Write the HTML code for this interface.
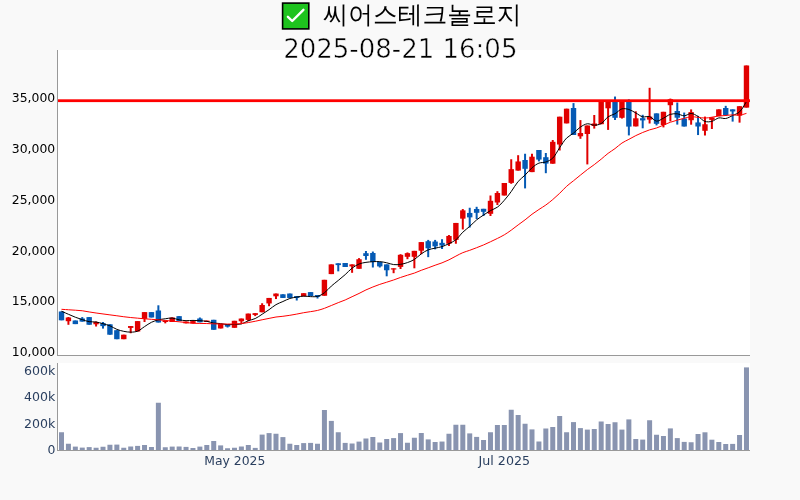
<!DOCTYPE html>
<html><head><meta charset="utf-8"><title>씨어스테크놀로지</title>
<style>
html,body{margin:0;padding:0;background:#f9f9f9;}
svg{display:block;will-change:transform;}
.tk{font-family:"DejaVu Sans",sans-serif;font-size:12px;}
.t1{font-family:"WenQuanYi Zen Hei","Noto Sans CJK KR",sans-serif;font-size:24.75px;fill:#000;}
.t2{font-family:"DejaVu Sans",sans-serif;font-size:26px;fill:#000;stroke:#fff;stroke-width:0.5px;}
</style></head>
<body><svg width="800" height="500" viewBox="0 0 800 500">
<rect x="0" y="0" width="800" height="500" fill="#f9f9f9"/>
<rect x="57" y="50" width="693" height="305" fill="#fff"/>
<rect x="57" y="363" width="693" height="87" fill="#fff"/>
<g><rect x="60.5" y="311.5" width="2" height="8.8" fill="#055ab4"/><rect x="58.8" y="311.5" width="5.4" height="8.8" fill="#055ab4"/><rect x="67.42" y="317" width="2" height="7.8" fill="#e00000"/><rect x="65.72" y="317.5" width="5.4" height="3.7" fill="#e00000"/><rect x="74.34" y="320.5" width="2" height="3.6" fill="#055ab4"/><rect x="72.64" y="320.5" width="5.4" height="3.6" fill="#055ab4"/><rect x="81.26" y="317.1" width="2" height="4.5" fill="#055ab4"/><rect x="79.56" y="318.5" width="5.4" height="3.1" fill="#055ab4"/><rect x="88.18" y="317.1" width="2" height="7.65" fill="#055ab4"/><rect x="86.48" y="317.1" width="5.4" height="7.65" fill="#055ab4"/><rect x="95.09" y="321.5" width="2" height="5" fill="#e00000"/><rect x="93.39" y="322" width="5.4" height="2.3" fill="#e00000"/><rect x="102.01" y="322" width="2" height="6.6" fill="#055ab4"/><rect x="100.31" y="323.2" width="5.4" height="2.9" fill="#055ab4"/><rect x="108.93" y="324.3" width="2" height="10.4" fill="#055ab4"/><rect x="107.23" y="324.3" width="5.4" height="10.4" fill="#055ab4"/><rect x="115.85" y="330.2" width="2" height="9" fill="#055ab4"/><rect x="114.15" y="330.2" width="5.4" height="9" fill="#055ab4"/><rect x="122.77" y="334.7" width="2" height="4.5" fill="#e00000"/><rect x="121.07" y="334.7" width="5.4" height="4.5" fill="#e00000"/><rect x="129.69" y="326.05" width="2" height="7.2" fill="#e00000"/><rect x="127.99" y="326.05" width="5.4" height="1.85" fill="#e00000"/><rect x="136.61" y="321.1" width="2" height="10.4" fill="#e00000"/><rect x="134.91" y="321.1" width="5.4" height="10.4" fill="#e00000"/><rect x="143.53" y="312.1" width="2" height="9.9" fill="#e00000"/><rect x="141.83" y="312.1" width="5.4" height="6.75" fill="#e00000"/><rect x="150.45" y="312.1" width="2" height="5.4" fill="#055ab4"/><rect x="148.75" y="312.1" width="5.4" height="5.4" fill="#055ab4"/><rect x="157.37" y="305.3" width="2" height="17.2" fill="#055ab4"/><rect x="155.67" y="310.5" width="5.4" height="12" fill="#055ab4"/><rect x="164.28" y="320.65" width="2" height="2.7" fill="#e00000"/><rect x="162.58" y="320.65" width="5.4" height="1.35" fill="#e00000"/><rect x="171.2" y="317.5" width="2" height="4.5" fill="#e00000"/><rect x="169.5" y="317.5" width="5.4" height="4.5" fill="#e00000"/><rect x="178.12" y="316.15" width="2" height="4.95" fill="#055ab4"/><rect x="176.42" y="316.15" width="5.4" height="4.95" fill="#055ab4"/><rect x="185.04" y="321.55" width="2" height="1.8" fill="#e00000"/><rect x="183.34" y="321.55" width="5.4" height="1.8" fill="#e00000"/><rect x="191.96" y="320.2" width="2" height="3.15" fill="#e00000"/><rect x="190.26" y="321.1" width="5.4" height="2.25" fill="#e00000"/><rect x="198.88" y="317.5" width="2" height="4.8" fill="#055ab4"/><rect x="197.18" y="318.5" width="5.4" height="3.8" fill="#055ab4"/><rect x="205.8" y="320.6" width="2" height="1.4" fill="#e00000"/><rect x="204.1" y="320.6" width="5.4" height="1.4" fill="#e00000"/><rect x="212.72" y="319.8" width="2" height="10" fill="#055ab4"/><rect x="211.02" y="319.8" width="5.4" height="10" fill="#055ab4"/><rect x="219.64" y="324" width="2" height="4.45" fill="#e00000"/><rect x="217.94" y="324" width="5.4" height="4.45" fill="#e00000"/><rect x="226.56" y="324" width="2" height="3.5" fill="#055ab4"/><rect x="224.86" y="324" width="5.4" height="2.65" fill="#055ab4"/><rect x="233.47" y="320.8" width="2" height="7" fill="#e00000"/><rect x="231.77" y="320.8" width="5.4" height="7" fill="#e00000"/><rect x="240.39" y="318.55" width="2" height="4.95" fill="#e00000"/><rect x="238.69" y="318.55" width="5.4" height="2.7" fill="#e00000"/><rect x="247.31" y="313.6" width="2" height="7.65" fill="#e00000"/><rect x="245.61" y="313.6" width="5.4" height="6.3" fill="#e00000"/><rect x="254.23" y="313.15" width="2" height="2.95" fill="#e00000"/><rect x="252.53" y="313.15" width="5.4" height="1.8" fill="#e00000"/><rect x="261.15" y="303.25" width="2" height="9" fill="#e00000"/><rect x="259.45" y="305" width="5.4" height="7.25" fill="#e00000"/><rect x="268.07" y="297.95" width="2" height="8.25" fill="#e00000"/><rect x="266.37" y="297.95" width="5.4" height="5.5" fill="#e00000"/><rect x="274.99" y="293.55" width="2" height="5.5" fill="#e00000"/><rect x="273.29" y="293.55" width="5.4" height="2.75" fill="#e00000"/><rect x="281.91" y="294.3" width="2" height="3.65" fill="#055ab4"/><rect x="280.21" y="294.3" width="5.4" height="3.65" fill="#055ab4"/><rect x="288.83" y="293.55" width="2" height="4.4" fill="#055ab4"/><rect x="287.13" y="293.55" width="5.4" height="4.4" fill="#055ab4"/><rect x="295.75" y="296.1" width="2" height="4.4" fill="#055ab4"/><rect x="294.05" y="296.1" width="5.4" height="1.85" fill="#055ab4"/><rect x="302.66" y="293.2" width="2" height="3.1" fill="#e00000"/><rect x="300.96" y="293.2" width="5.4" height="3.1" fill="#e00000"/><rect x="309.58" y="292.1" width="2" height="4" fill="#055ab4"/><rect x="307.88" y="292.1" width="5.4" height="4" fill="#055ab4"/><rect x="316.5" y="295" width="2" height="3.5" fill="#055ab4"/><rect x="314.8" y="295" width="5.4" height="1.85" fill="#055ab4"/><rect x="323.42" y="279.8" width="2" height="15.95" fill="#e00000"/><rect x="321.72" y="279.8" width="5.4" height="15.95" fill="#e00000"/><rect x="330.34" y="264.4" width="2" height="9.7" fill="#e00000"/><rect x="328.64" y="264.4" width="5.4" height="9.7" fill="#e00000"/><rect x="337.26" y="263.3" width="2" height="8.05" fill="#055ab4"/><rect x="335.56" y="263.3" width="5.4" height="1.8" fill="#055ab4"/><rect x="344.18" y="263" width="2" height="4" fill="#055ab4"/><rect x="342.48" y="263" width="5.4" height="4" fill="#055ab4"/><rect x="351.1" y="264.4" width="2" height="8.4" fill="#e00000"/><rect x="349.4" y="264.4" width="5.4" height="2" fill="#e00000"/><rect x="358.02" y="258.15" width="2" height="10.65" fill="#e00000"/><rect x="356.32" y="259.25" width="5.4" height="9.55" fill="#e00000"/><rect x="364.94" y="251" width="2" height="8.8" fill="#055ab4"/><rect x="363.24" y="253.2" width="5.4" height="2.8" fill="#055ab4"/><rect x="371.85" y="251.55" width="2" height="15.95" fill="#055ab4"/><rect x="370.15" y="253" width="5.4" height="9" fill="#055ab4"/><rect x="378.77" y="262" width="2" height="5.5" fill="#055ab4"/><rect x="377.07" y="262" width="5.4" height="4.4" fill="#055ab4"/><rect x="385.69" y="264.4" width="2" height="11.9" fill="#055ab4"/><rect x="383.99" y="264.4" width="5.4" height="5.85" fill="#055ab4"/><rect x="392.61" y="268.3" width="2" height="4.9" fill="#e00000"/><rect x="390.91" y="268.3" width="5.4" height="1.2" fill="#e00000"/><rect x="399.53" y="254.2" width="2" height="14.8" fill="#e00000"/><rect x="397.83" y="254.8" width="5.4" height="12.1" fill="#e00000"/><rect x="406.45" y="252.45" width="2" height="6.75" fill="#e00000"/><rect x="404.75" y="253.15" width="5.4" height="3.65" fill="#e00000"/><rect x="413.37" y="250.85" width="2" height="17.45" fill="#e00000"/><rect x="411.67" y="250.85" width="5.4" height="5.95" fill="#e00000"/><rect x="420.29" y="242.1" width="2" height="12.1" fill="#e00000"/><rect x="418.59" y="242.1" width="5.4" height="8.6" fill="#e00000"/><rect x="427.21" y="239.9" width="2" height="17.25" fill="#055ab4"/><rect x="425.51" y="241.2" width="5.4" height="7.1" fill="#055ab4"/><rect x="434.13" y="239.9" width="2" height="9.45" fill="#055ab4"/><rect x="432.43" y="241.55" width="5.4" height="4.8" fill="#055ab4"/><rect x="441.04" y="239.2" width="2" height="9.8" fill="#055ab4"/><rect x="439.34" y="242.85" width="5.4" height="2.6" fill="#055ab4"/><rect x="447.96" y="235.05" width="2" height="10.95" fill="#e00000"/><rect x="446.26" y="235.95" width="5.4" height="7.8" fill="#e00000"/><rect x="454.88" y="222.95" width="2" height="20.8" fill="#e00000"/><rect x="453.18" y="222.95" width="5.4" height="16.9" fill="#e00000"/><rect x="461.8" y="209.05" width="2" height="20.4" fill="#e00000"/><rect x="460.1" y="210.35" width="5.4" height="8.3" fill="#e00000"/><rect x="468.72" y="207.75" width="2" height="19.75" fill="#055ab4"/><rect x="467.02" y="212.95" width="5.4" height="4.4" fill="#055ab4"/><rect x="475.64" y="206.8" width="2" height="12.2" fill="#055ab4"/><rect x="473.94" y="209" width="5.4" height="3.8" fill="#055ab4"/><rect x="482.56" y="208.8" width="2" height="7.2" fill="#055ab4"/><rect x="480.86" y="208.8" width="5.4" height="3" fill="#055ab4"/><rect x="489.48" y="195.5" width="2" height="20.5" fill="#e00000"/><rect x="487.78" y="200.8" width="5.4" height="13" fill="#e00000"/><rect x="496.4" y="191.2" width="2" height="13.8" fill="#e00000"/><rect x="494.7" y="193" width="5.4" height="9.5" fill="#e00000"/><rect x="503.32" y="183" width="2" height="12.5" fill="#e00000"/><rect x="501.62" y="183" width="5.4" height="12.5" fill="#e00000"/><rect x="510.23" y="159.25" width="2" height="24.55" fill="#e00000"/><rect x="508.53" y="169.15" width="5.4" height="13.75" fill="#e00000"/><rect x="517.15" y="155.2" width="2" height="15.4" fill="#e00000"/><rect x="515.45" y="161.45" width="5.4" height="9.15" fill="#e00000"/><rect x="524.07" y="153.75" width="2" height="34.65" fill="#055ab4"/><rect x="522.37" y="160" width="5.4" height="8.8" fill="#055ab4"/><rect x="530.99" y="153.75" width="2" height="18.35" fill="#e00000"/><rect x="529.29" y="156.7" width="5.4" height="15.4" fill="#e00000"/><rect x="537.91" y="150" width="2" height="11.4" fill="#055ab4"/><rect x="536.21" y="150" width="5.4" height="9.6" fill="#055ab4"/><rect x="544.83" y="153" width="2" height="20.2" fill="#055ab4"/><rect x="543.13" y="157.2" width="5.4" height="6.4" fill="#055ab4"/><rect x="551.75" y="140" width="2" height="23.7" fill="#e00000"/><rect x="550.05" y="141.8" width="5.4" height="21.9" fill="#e00000"/><rect x="558.67" y="116.7" width="2" height="33.8" fill="#e00000"/><rect x="556.97" y="116.7" width="5.4" height="27.8" fill="#e00000"/><rect x="565.59" y="108.7" width="2" height="14.7" fill="#e00000"/><rect x="563.89" y="108.7" width="5.4" height="14.7" fill="#e00000"/><rect x="572.51" y="103.1" width="2" height="31.9" fill="#055ab4"/><rect x="570.81" y="108" width="5.4" height="27" fill="#055ab4"/><rect x="579.42" y="120.1" width="2" height="18.7" fill="#e00000"/><rect x="577.72" y="133" width="5.4" height="3.3" fill="#e00000"/><rect x="586.34" y="125.5" width="2" height="38.9" fill="#e00000"/><rect x="584.64" y="125.5" width="5.4" height="8.5" fill="#e00000"/><rect x="593.26" y="115" width="2" height="13.6" fill="#e00000"/><rect x="591.56" y="123.5" width="5.4" height="2.5" fill="#e00000"/><rect x="600.18" y="101" width="2" height="23.2" fill="#e00000"/><rect x="598.48" y="101" width="5.4" height="23.2" fill="#e00000"/><rect x="607.1" y="101" width="2" height="28.9" fill="#e00000"/><rect x="605.4" y="101" width="5.4" height="7.3" fill="#e00000"/><rect x="614.02" y="96.55" width="2" height="23.45" fill="#055ab4"/><rect x="612.32" y="101" width="5.4" height="16.8" fill="#055ab4"/><rect x="620.94" y="101" width="2" height="17.55" fill="#e00000"/><rect x="619.24" y="101" width="5.4" height="16.8" fill="#e00000"/><rect x="627.86" y="99.3" width="2" height="36.1" fill="#055ab4"/><rect x="626.16" y="101" width="5.4" height="25.6" fill="#055ab4"/><rect x="634.78" y="111.3" width="2" height="15.1" fill="#e00000"/><rect x="633.08" y="118.3" width="5.4" height="8.1" fill="#e00000"/><rect x="641.7" y="114.8" width="2" height="13.5" fill="#055ab4"/><rect x="640" y="118.2" width="5.4" height="2.2" fill="#055ab4"/><rect x="648.61" y="87.8" width="2" height="35.7" fill="#e00000"/><rect x="646.91" y="116.6" width="5.4" height="3" fill="#e00000"/><rect x="655.53" y="113.4" width="2" height="12" fill="#055ab4"/><rect x="653.83" y="113.4" width="5.4" height="10.4" fill="#055ab4"/><rect x="662.45" y="111.8" width="2" height="15.6" fill="#e00000"/><rect x="660.75" y="111.8" width="5.4" height="13.2" fill="#e00000"/><rect x="669.37" y="98.6" width="2" height="22.8" fill="#e00000"/><rect x="667.67" y="99.2" width="5.4" height="6" fill="#e00000"/><rect x="676.29" y="102.5" width="2" height="22.1" fill="#055ab4"/><rect x="674.59" y="111" width="5.4" height="6.7" fill="#055ab4"/><rect x="683.21" y="112.55" width="2" height="13.95" fill="#055ab4"/><rect x="681.51" y="118.6" width="5.4" height="7.9" fill="#055ab4"/><rect x="690.13" y="109.4" width="2" height="15.3" fill="#e00000"/><rect x="688.43" y="112.1" width="5.4" height="8.1" fill="#e00000"/><rect x="697.05" y="115.9" width="2" height="19.15" fill="#055ab4"/><rect x="695.35" y="122.45" width="5.4" height="4.05" fill="#055ab4"/><rect x="703.97" y="116.6" width="2" height="18.9" fill="#e00000"/><rect x="702.27" y="124.25" width="5.4" height="6.55" fill="#e00000"/><rect x="710.89" y="117.4" width="2" height="11.6" fill="#e00000"/><rect x="709.19" y="117.4" width="5.4" height="2.5" fill="#e00000"/><rect x="717.8" y="109.35" width="2" height="6.75" fill="#e00000"/><rect x="716.1" y="109.35" width="5.4" height="6.75" fill="#e00000"/><rect x="724.72" y="105.85" width="2" height="10.15" fill="#055ab4"/><rect x="723.02" y="108" width="5.4" height="7" fill="#055ab4"/><rect x="731.64" y="109.35" width="2" height="12.25" fill="#055ab4"/><rect x="729.94" y="109.35" width="5.4" height="2.1" fill="#055ab4"/><rect x="738.56" y="106.2" width="2" height="16.45" fill="#e00000"/><rect x="736.86" y="106.2" width="5.4" height="9.45" fill="#e00000"/><rect x="745.48" y="65.5" width="2" height="42.1" fill="#e00000"/><rect x="743.78" y="65.5" width="5.4" height="42.1" fill="#e00000"/></g>
<path d="M61.50,311.22Q66.11,313.27 68.42,314.28C70.72,315.27 73.02,316.32 75.34,317.22C77.63,318.10 79.94,318.88 82.26,319.62C84.55,320.36 86.85,321.26 89.18,321.65C91.46,322.04 93.80,321.65 96.09,321.99C98.42,322.33 100.72,323.07 103.01,323.71C105.33,324.35 107.67,324.91 109.93,325.83C112.28,326.78 114.50,328.42 116.85,329.35C119.12,330.24 121.44,330.87 123.77,331.34C126.06,331.80 128.39,332.18 130.69,332.15C133.00,332.12 135.39,331.99 137.61,331.15C140.02,330.24 142.21,328.11 144.53,326.63C146.83,325.16 149.07,323.43 151.45,322.29C153.69,321.21 156.03,320.44 158.37,319.85C160.65,319.28 162.97,319.07 165.28,318.77C167.59,318.47 169.91,317.88 172.20,318.05C174.53,318.23 176.80,319.41 179.12,319.85C181.41,320.28 183.73,320.57 186.04,320.66C188.34,320.75 190.65,320.37 192.96,320.38C195.27,320.39 197.57,320.55 199.88,320.71C202.19,320.87 204.51,320.94 206.80,321.33C209.12,321.72 211.39,322.70 213.72,323.07C216.01,323.44 218.34,323.29 220.64,323.56C222.95,323.83 225.24,324.54 227.56,324.67C229.86,324.80 232.17,324.49 234.47,324.37C236.78,324.25 239.14,324.53 241.39,323.96C243.76,323.36 245.98,321.63 248.31,320.72C250.59,319.83 252.99,319.58 255.23,318.55C257.61,317.45 259.85,315.70 262.15,314.22C264.47,312.73 266.78,311.23 269.07,309.65C271.39,308.04 273.61,306.03 275.99,304.65C278.23,303.35 280.60,302.55 282.91,301.52C285.21,300.49 287.48,299.23 289.83,298.48C292.09,297.76 294.43,297.46 296.75,297.07C299.05,296.68 301.35,296.19 303.66,296.12C305.97,296.05 308.28,296.58 310.58,296.63C312.89,296.68 315.26,297.00 317.50,296.41C319.88,295.78 322.22,294.37 324.42,292.78C326.86,291.01 328.99,288.16 331.34,286.07C333.60,284.06 335.96,282.35 338.26,280.45C340.57,278.54 342.90,276.65 345.18,274.63C347.51,272.56 349.69,269.95 352.10,268.14C354.32,266.47 356.64,265.00 359.02,264.03C361.26,263.12 363.61,262.73 365.94,262.35C368.23,261.97 370.55,261.85 372.85,261.73C375.16,261.61 377.48,261.44 379.77,261.61C382.09,261.78 384.40,262.29 386.69,262.78C389.01,263.28 391.29,264.33 393.61,264.59C395.90,264.84 398.24,264.68 400.53,264.35C402.86,264.02 405.18,263.37 407.45,262.58C409.79,261.76 412.15,260.84 414.37,259.47C416.78,257.98 418.91,255.48 421.29,253.84C423.53,252.29 425.83,250.79 428.21,249.84C430.45,248.94 432.82,248.69 435.13,248.15C437.43,247.61 439.77,247.35 442.04,246.61C444.39,245.85 446.68,244.75 448.96,243.63C451.30,242.48 453.71,241.52 455.88,239.80C458.36,237.84 460.42,234.50 462.80,232.21C465.04,230.06 467.44,228.44 469.72,226.41C472.06,224.33 474.26,221.82 476.64,219.88C478.88,218.06 481.24,216.60 483.56,215.05C485.85,213.52 488.14,211.95 490.48,210.62C492.75,209.33 495.21,208.72 497.40,207.15C499.85,205.38 502.08,202.78 504.32,200.28C506.70,197.61 508.98,194.60 511.23,191.55C513.60,188.35 515.68,184.34 518.15,181.48C520.33,178.97 522.80,177.32 525.07,175.08C527.42,172.77 529.57,169.87 531.99,167.82C534.20,165.95 536.49,164.10 538.91,163.14C541.12,162.26 543.59,162.82 545.83,162.03C548.21,161.19 550.65,160.06 552.75,158.10C555.38,155.65 557.33,151.06 559.67,147.68C561.94,144.39 564.05,140.60 566.59,138.08C568.73,135.95 571.25,134.95 573.51,133.16C575.86,131.29 578.00,128.64 580.42,127.04C582.63,125.59 584.99,124.07 587.34,123.78C589.60,123.50 591.96,125.17 594.26,125.14C596.57,125.11 599.03,124.77 601.18,123.60C603.70,122.23 605.63,118.47 608.10,116.80C610.28,115.32 612.78,115.03 615.02,113.76C617.40,112.41 619.51,109.52 621.94,108.86C624.14,108.27 626.61,108.84 628.86,109.48C631.23,110.15 633.48,111.73 635.78,112.94C638.10,114.17 640.31,116.24 642.70,116.82C644.93,117.36 647.40,115.96 649.61,116.58C652.03,117.26 654.17,120.93 656.53,121.14C658.79,121.34 661.17,119.29 663.45,118.18C665.79,117.04 667.99,115.08 670.37,114.36C672.61,113.69 675.00,113.59 677.29,113.82C679.62,114.05 681.91,115.85 684.21,115.80C686.52,115.75 688.84,113.37 691.13,113.46C693.45,113.55 695.81,115.14 698.05,116.40C700.43,117.75 702.53,120.63 704.97,121.41C707.16,122.11 709.64,121.89 711.89,121.35C714.26,120.78 716.43,118.37 718.80,117.92C721.05,117.49 723.46,118.87 725.72,118.50C728.08,118.11 730.36,116.58 732.64,115.49C734.97,114.38 737.47,113.76 739.56,111.88Q742.21,109.50 746.48,101.50" fill="none" stroke="#000" stroke-width="1"/>
<path d="M61.50,309.30Q66.11,309.61 68.42,309.76C70.72,309.91 73.03,310.05 75.34,310.21C77.64,310.38 79.96,310.48 82.26,310.76C84.57,311.05 86.87,311.57 89.18,311.95C91.48,312.32 93.79,312.68 96.09,313.01C98.40,313.34 100.71,313.63 103.01,313.94C105.32,314.24 107.63,314.55 109.93,314.86C112.24,315.17 114.55,315.47 116.85,315.78C119.16,316.09 121.46,316.45 123.77,316.74C126.08,317.03 128.38,317.30 130.69,317.54C132.99,317.78 135.30,317.96 137.61,318.17C139.91,318.38 142.22,318.62 144.53,318.81C146.83,319.00 149.14,319.14 151.45,319.31C153.75,319.48 156.06,319.63 158.37,319.82C160.67,320.02 162.98,320.25 165.28,320.47C167.59,320.69 169.90,320.90 172.20,321.12C174.51,321.34 176.82,321.58 179.12,321.81C181.43,322.04 183.74,322.24 186.04,322.49C188.35,322.74 190.65,323.15 192.96,323.31C195.26,323.46 197.57,323.36 199.88,323.41C202.19,323.45 204.49,323.49 206.80,323.56C209.11,323.63 211.41,323.78 213.72,323.85C216.02,323.91 218.33,323.93 220.64,323.97C222.94,324.00 225.25,324.05 227.56,324.06C229.86,324.07 232.17,324.07 234.47,324.00C236.78,323.93 239.09,323.86 241.39,323.62C243.71,323.38 246.01,322.96 248.31,322.57C250.62,322.17 252.93,321.73 255.23,321.26C257.54,320.80 259.84,320.26 262.15,319.78C264.46,319.30 266.76,318.84 269.07,318.38C271.38,317.91 273.67,317.35 275.99,317.00C278.29,316.65 280.60,316.57 282.91,316.29C285.22,316.01 287.52,315.68 289.83,315.31C292.14,314.94 294.44,314.52 296.75,314.08C299.05,313.65 301.35,313.12 303.66,312.71C305.97,312.31 308.28,312.02 310.58,311.64C312.89,311.26 315.21,310.97 317.50,310.43C319.83,309.88 322.13,309.15 324.42,308.34C326.75,307.52 329.03,306.46 331.34,305.51C333.65,304.56 335.95,303.57 338.26,302.65C340.56,301.73 342.89,300.95 345.18,299.97C347.50,298.97 349.79,297.78 352.10,296.70C354.40,295.61 356.72,294.58 359.02,293.46C361.33,292.33 363.61,291.01 365.94,289.93C368.22,288.86 370.54,287.92 372.85,286.99C375.15,286.07 377.46,285.18 379.77,284.38C382.07,283.59 384.39,282.95 386.69,282.21C389.00,281.48 391.31,280.76 393.61,279.97C395.92,279.18 398.22,278.25 400.53,277.46C402.83,276.67 405.14,275.95 407.45,275.22C409.75,274.49 412.08,273.90 414.37,273.08C416.69,272.26 418.97,271.17 421.29,270.29C423.59,269.42 425.90,268.65 428.21,267.81C430.52,266.97 432.81,266.06 435.13,265.23C437.43,264.40 439.76,263.73 442.04,262.84C444.37,261.94 446.68,260.94 448.96,259.83C451.29,258.71 453.57,257.34 455.88,256.14C458.18,254.95 460.46,253.65 462.80,252.67C465.08,251.72 467.42,251.14 469.72,250.31C472.03,249.48 474.34,248.59 476.64,247.70C478.95,246.80 481.26,245.92 483.56,244.94C485.88,243.95 488.18,242.84 490.48,241.76C492.79,240.68 495.10,239.60 497.40,238.45C499.71,237.28 502.04,236.15 504.32,234.80C506.66,233.40 508.95,231.78 511.23,230.16C513.57,228.49 515.84,226.63 518.15,224.91C520.45,223.19 522.79,221.59 525.07,219.83C527.40,218.05 529.65,216.00 531.99,214.26C534.27,212.56 536.59,211.04 538.91,209.49C541.21,207.96 543.56,206.64 545.83,205.02C548.18,203.34 550.47,201.49 552.75,199.56C555.09,197.59 557.39,195.47 559.67,193.30C562.00,191.06 564.22,188.45 566.59,186.31C568.84,184.29 571.20,182.61 573.51,180.75C575.81,178.88 578.11,176.99 580.42,175.12C582.73,173.27 585.01,171.37 587.34,169.60C589.63,167.87 591.98,166.35 594.26,164.63C596.59,162.88 598.89,161.03 601.18,159.16C603.50,157.27 605.75,155.13 608.10,153.34C610.37,151.62 612.74,150.28 615.02,148.59C617.36,146.86 619.56,144.63 621.94,143.06C624.18,141.58 626.55,140.59 628.86,139.34C631.16,138.10 633.45,136.76 635.78,135.61C638.06,134.48 640.37,133.44 642.70,132.48C644.99,131.53 647.29,130.61 649.61,129.85C651.90,129.11 654.25,128.75 656.53,127.97C658.86,127.18 661.15,126.07 663.45,125.12C665.76,124.17 668.04,123.08 670.37,122.25C672.66,121.43 674.98,120.81 677.29,120.15C679.59,119.49 681.90,118.85 684.21,118.30C686.51,117.74 688.81,116.97 691.13,116.81C693.42,116.65 695.74,117.09 698.05,117.30C700.36,117.51 702.66,118.09 704.97,118.08C707.27,118.06 709.58,117.54 711.89,117.20C714.20,116.85 716.49,116.30 718.80,116.02C721.10,115.73 723.42,115.68 725.72,115.49C728.03,115.30 730.33,114.94 732.64,114.89C734.95,114.83 737.27,115.39 739.56,115.15Q741.89,114.90 746.48,113.37" fill="none" stroke="#ff0000" stroke-width="1"/>
<rect x="58" y="99.3" width="692" height="2.8" fill="#ff0000"/>
<g><rect x="59" y="432.25" width="5" height="17.75" fill="#8994b0"/><rect x="65.92" y="443.75" width="5" height="6.25" fill="#8994b0"/><rect x="72.84" y="446.6" width="5" height="3.4" fill="#8994b0"/><rect x="79.76" y="447.6" width="5" height="2.4" fill="#8994b0"/><rect x="86.68" y="447.1" width="5" height="2.9" fill="#8994b0"/><rect x="93.59" y="447.75" width="5" height="2.25" fill="#8994b0"/><rect x="100.51" y="446.75" width="5" height="3.25" fill="#8994b0"/><rect x="107.43" y="444.75" width="5" height="5.25" fill="#8994b0"/><rect x="114.35" y="444.6" width="5" height="5.4" fill="#8994b0"/><rect x="121.27" y="447.75" width="5" height="2.25" fill="#8994b0"/><rect x="128.19" y="446.5" width="5" height="3.5" fill="#8994b0"/><rect x="135.11" y="445.9" width="5" height="4.1" fill="#8994b0"/><rect x="142.03" y="445" width="5" height="5" fill="#8994b0"/><rect x="148.95" y="447" width="5" height="3" fill="#8994b0"/><rect x="155.87" y="402.75" width="5" height="47.25" fill="#8994b0"/><rect x="162.78" y="447.25" width="5" height="2.75" fill="#8994b0"/><rect x="169.7" y="446.6" width="5" height="3.4" fill="#8994b0"/><rect x="176.62" y="446.5" width="5" height="3.5" fill="#8994b0"/><rect x="183.54" y="446.9" width="5" height="3.1" fill="#8994b0"/><rect x="190.46" y="448" width="5" height="2" fill="#8994b0"/><rect x="197.38" y="446.6" width="5" height="3.4" fill="#8994b0"/><rect x="204.3" y="445" width="5" height="5" fill="#8994b0"/><rect x="211.22" y="441" width="5" height="9" fill="#8994b0"/><rect x="218.14" y="445.4" width="5" height="4.6" fill="#8994b0"/><rect x="225.06" y="448.25" width="5" height="1.75" fill="#8994b0"/><rect x="231.97" y="447.75" width="5" height="2.25" fill="#8994b0"/><rect x="238.89" y="446.5" width="5" height="3.5" fill="#8994b0"/><rect x="245.81" y="445" width="5" height="5" fill="#8994b0"/><rect x="252.73" y="447.9" width="5" height="2.1" fill="#8994b0"/><rect x="259.65" y="434.6" width="5" height="15.4" fill="#8994b0"/><rect x="266.57" y="433.1" width="5" height="16.9" fill="#8994b0"/><rect x="273.49" y="433.75" width="5" height="16.25" fill="#8994b0"/><rect x="280.41" y="437.1" width="5" height="12.9" fill="#8994b0"/><rect x="287.33" y="443.75" width="5" height="6.25" fill="#8994b0"/><rect x="294.25" y="445" width="5" height="5" fill="#8994b0"/><rect x="301.16" y="443.1" width="5" height="6.9" fill="#8994b0"/><rect x="308.08" y="442.9" width="5" height="7.1" fill="#8994b0"/><rect x="315" y="443.75" width="5" height="6.25" fill="#8994b0"/><rect x="321.92" y="410" width="5" height="40" fill="#8994b0"/><rect x="328.84" y="420.9" width="5" height="29.1" fill="#8994b0"/><rect x="335.76" y="432.25" width="5" height="17.75" fill="#8994b0"/><rect x="342.68" y="442.9" width="5" height="7.1" fill="#8994b0"/><rect x="349.6" y="443.5" width="5" height="6.5" fill="#8994b0"/><rect x="356.52" y="441.6" width="5" height="8.4" fill="#8994b0"/><rect x="363.44" y="438.5" width="5" height="11.5" fill="#8994b0"/><rect x="370.35" y="437" width="5" height="13" fill="#8994b0"/><rect x="377.27" y="442.5" width="5" height="7.5" fill="#8994b0"/><rect x="384.19" y="439" width="5" height="11" fill="#8994b0"/><rect x="391.11" y="438.1" width="5" height="11.9" fill="#8994b0"/><rect x="398.03" y="433.1" width="5" height="16.9" fill="#8994b0"/><rect x="404.95" y="442.75" width="5" height="7.25" fill="#8994b0"/><rect x="411.87" y="437.75" width="5" height="12.25" fill="#8994b0"/><rect x="418.79" y="433" width="5" height="17" fill="#8994b0"/><rect x="425.71" y="439.4" width="5" height="10.6" fill="#8994b0"/><rect x="432.63" y="442" width="5" height="8" fill="#8994b0"/><rect x="439.54" y="441.55" width="5" height="8.45" fill="#8994b0"/><rect x="446.46" y="433.75" width="5" height="16.25" fill="#8994b0"/><rect x="453.38" y="424.75" width="5" height="25.25" fill="#8994b0"/><rect x="460.3" y="424.75" width="5" height="25.25" fill="#8994b0"/><rect x="467.22" y="433.4" width="5" height="16.6" fill="#8994b0"/><rect x="474.14" y="436.9" width="5" height="13.1" fill="#8994b0"/><rect x="481.06" y="440" width="5" height="10" fill="#8994b0"/><rect x="487.98" y="432.25" width="5" height="17.75" fill="#8994b0"/><rect x="494.9" y="425" width="5" height="25" fill="#8994b0"/><rect x="501.82" y="425" width="5" height="25" fill="#8994b0"/><rect x="508.73" y="409.75" width="5" height="40.25" fill="#8994b0"/><rect x="515.65" y="415" width="5" height="35" fill="#8994b0"/><rect x="522.57" y="423.75" width="5" height="26.25" fill="#8994b0"/><rect x="529.49" y="429.4" width="5" height="20.6" fill="#8994b0"/><rect x="536.41" y="441.5" width="5" height="8.5" fill="#8994b0"/><rect x="543.33" y="428.5" width="5" height="21.5" fill="#8994b0"/><rect x="550.25" y="427" width="5" height="23" fill="#8994b0"/><rect x="557.17" y="416" width="5" height="34" fill="#8994b0"/><rect x="564.09" y="432.25" width="5" height="17.75" fill="#8994b0"/><rect x="571.01" y="422.1" width="5" height="27.9" fill="#8994b0"/><rect x="577.92" y="428.1" width="5" height="21.9" fill="#8994b0"/><rect x="584.84" y="429.6" width="5" height="20.4" fill="#8994b0"/><rect x="591.76" y="429" width="5" height="21" fill="#8994b0"/><rect x="598.68" y="421.5" width="5" height="28.5" fill="#8994b0"/><rect x="605.6" y="424" width="5" height="26" fill="#8994b0"/><rect x="612.52" y="422.25" width="5" height="27.75" fill="#8994b0"/><rect x="619.44" y="429.6" width="5" height="20.4" fill="#8994b0"/><rect x="626.36" y="419.4" width="5" height="30.6" fill="#8994b0"/><rect x="633.28" y="439" width="5" height="11" fill="#8994b0"/><rect x="640.2" y="439.6" width="5" height="10.4" fill="#8994b0"/><rect x="647.11" y="420.25" width="5" height="29.75" fill="#8994b0"/><rect x="654.03" y="434.75" width="5" height="15.25" fill="#8994b0"/><rect x="660.95" y="436" width="5" height="14" fill="#8994b0"/><rect x="667.87" y="428.4" width="5" height="21.6" fill="#8994b0"/><rect x="674.79" y="438.1" width="5" height="11.9" fill="#8994b0"/><rect x="681.71" y="441.9" width="5" height="8.1" fill="#8994b0"/><rect x="688.63" y="442.25" width="5" height="7.75" fill="#8994b0"/><rect x="695.55" y="434" width="5" height="16" fill="#8994b0"/><rect x="702.47" y="432.3" width="5" height="17.7" fill="#8994b0"/><rect x="709.39" y="439.7" width="5" height="10.3" fill="#8994b0"/><rect x="716.3" y="442" width="5" height="8" fill="#8994b0"/><rect x="723.22" y="444" width="5" height="6" fill="#8994b0"/><rect x="730.14" y="443.9" width="5" height="6.1" fill="#8994b0"/><rect x="737.06" y="435" width="5" height="15" fill="#8994b0"/><rect x="743.98" y="367.4" width="5" height="82.6" fill="#8994b0"/></g>
<rect x="57" y="50" width="1" height="306" fill="#999"/>
<rect x="57" y="355" width="693" height="1" fill="#999"/>
<rect x="57" y="363" width="1" height="88" fill="#999"/>
<rect x="57" y="450" width="693" height="1" fill="#999"/>
<text x="55.2" y="102.1" text-anchor="end" class="tk" fill="#000" textLength="43.4" lengthAdjust="spacingAndGlyphs">35,000</text>
<text x="55.2" y="153.15" text-anchor="end" class="tk" fill="#000" textLength="43.4" lengthAdjust="spacingAndGlyphs">30,000</text>
<text x="55.2" y="204.0" text-anchor="end" class="tk" fill="#000" textLength="43.4" lengthAdjust="spacingAndGlyphs">25,000</text>
<text x="55.2" y="255.0" text-anchor="end" class="tk" fill="#000" textLength="43.4" lengthAdjust="spacingAndGlyphs">20,000</text>
<text x="55.2" y="305.1" text-anchor="end" class="tk" fill="#000" textLength="43.4" lengthAdjust="spacingAndGlyphs">15,000</text>
<text x="55.2" y="356.0" text-anchor="end" class="tk" fill="#000" textLength="43.4" lengthAdjust="spacingAndGlyphs">10,000</text>
<text x="55.4" y="374.7" text-anchor="end" class="tk" fill="#2a3f5f" textLength="31.3" lengthAdjust="spacingAndGlyphs">600k</text>
<text x="55.4" y="400.5" text-anchor="end" class="tk" fill="#2a3f5f" textLength="31.3" lengthAdjust="spacingAndGlyphs">400k</text>
<text x="55.4" y="427.55" text-anchor="end" class="tk" fill="#2a3f5f" textLength="31.3" lengthAdjust="spacingAndGlyphs">200k</text>
<text x="55.4" y="453.65" text-anchor="end" class="tk" fill="#2a3f5f" textLength="7.9" lengthAdjust="spacingAndGlyphs">0</text>
<text x="234.8" y="464.5" text-anchor="middle" class="tk" fill="#2a3f5f" textLength="61" lengthAdjust="spacingAndGlyphs">May 2025</text>
<text x="504.3" y="464.5" text-anchor="middle" class="tk" fill="#2a3f5f" textLength="51.5" lengthAdjust="spacingAndGlyphs">Jul 2025</text>
<g><rect x="282.6" y="3.1" width="26.2" height="25.8" fill="#1ec31e" stroke="#000" stroke-width="1.6"/><polyline points="287.9,16.8 292.2,21 303.4,9.8" fill="none" stroke="#fff" stroke-width="2.4" stroke-linecap="round" stroke-linejoin="round"/></g>
<text x="323.6" y="23.3" class="t1">씨어스테크놀로지</text>
<text x="400.3" y="57.9" text-anchor="middle" class="t2">2025-08-21 16:05</text>
</svg></body></html>
